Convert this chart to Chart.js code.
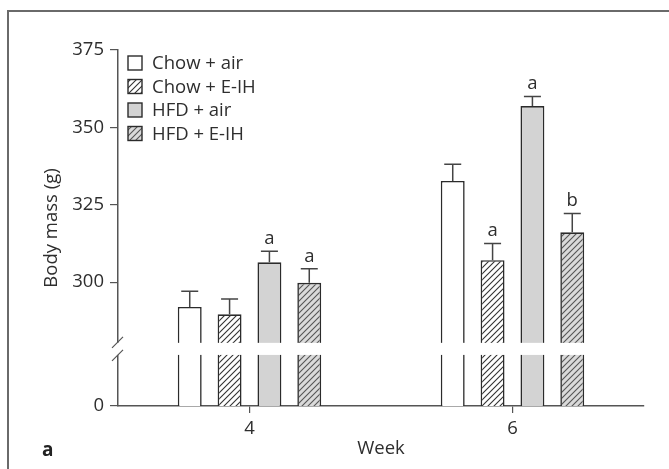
<!DOCTYPE html>
<html>
<head>
<meta charset="utf-8">
<script src="https://cdn.jsdelivr.net/npm/chart.js@4/dist/chart.umd.min.js"></script>
<style>
  html, body { margin: 0; padding: 0; background: #fff; }
  #wrap { position: relative; width: 669px; height: 469px; }
</style>
</head>
<body>
<div id="wrap"><canvas id="chart" width="669" height="469"></canvas></div>
<script>
// week groups and body mass per group (g)
const weeks = ['4', '6'];
const groupNames = ['Chow + air', 'Chow + E-IH', 'HFD + air', 'HFD + E-IH'];
const chowAir = [292.0, 332.7];
const chowEih = [289.6, 307.1];
const hfdAir = [306.4, 356.9];
const hfdEih = [299.8, 316.1];
// SEM, drawn upward only
const chowAirErr = [5.1, 5.4];
const chowEihErr = [5.0, 5.4];
const hfdAirErr = [3.6, 3.1];
const hfdEihErr = [4.5, 6.1];
// significance letters above the error caps
const chowAirSig = ['', ''];
const chowEihSig = ['', 'a'];
const hfdAirSig = ['a', 'a'];
const hfdEihSig = ['a', 'b'];
// axis: bottom of the broken axis stands for 0
const yFloor = 260;
const yTicks = [260, 300, 325, 350, 375];
const breakLow = 276.5, breakHigh = 280.4;

const FONT = '"Open Sans", "DejaVu Sans", sans-serif';
const FS = 18.5;
const TXT = '#2e2e2e';
const EDGE = '#2b2b2b';

function hatch(bg, line) {
  const s = 6;
  const c = document.createElement('canvas');
  c.width = s; c.height = s;
  const g = c.getContext('2d');
  g.fillStyle = bg;
  g.fillRect(0, 0, s, s);
  g.strokeStyle = line;
  g.lineWidth = 1.1;
  g.beginPath();
  g.moveTo(-1, s + 1); g.lineTo(s + 1, -1);
  g.moveTo(-1, 1); g.lineTo(1, -1);
  g.moveTo(s - 1, s + 1); g.lineTo(s + 1, s - 1);
  g.stroke();
  return g.createPattern(c, 'repeat');
}

const ctx = document.getElementById('chart').getContext('2d');
const fills = ['#ffffff', hatch('#ffffff', '#333'), '#d3d3d3', hatch('#dadada', '#555')];
const values = [chowAir, chowEih, hfdAir, hfdEih];
const errors = [chowAirErr, chowEihErr, hfdAirErr, hfdEihErr];
const letters = [chowAirSig, chowEihSig, hfdAirSig, hfdEihSig];

const datasets = groupNames.map((name, i) => ({
  label: name,
  data: values[i],
  backgroundColor: fills[i],
  borderColor: EDGE,
  borderWidth: 1.6,
  borderSkipped: false,
  barPercentage: 0.6,
  categoryPercentage: 0.606,
  errs: errors[i],
  sig: letters[i]
}));

// frame, error bars, axis break, legend, panel letter
const decor = {
  id: 'decor',
  beforeDraw(chart) {
    const g = chart.ctx;
    g.save();
    g.strokeStyle = '#6a6a6a';
    g.lineWidth = 2;
    g.beginPath();
    g.moveTo(8, 469); g.lineTo(8, 11); g.lineTo(669, 11);
    g.stroke();
    g.restore();
  },
  afterDatasetsDraw(chart) {
    const g = chart.ctx;
    const y = chart.scales.y;
    const area = chart.chartArea;
    g.save();
    // white gap across bars and axis
    const gTop = y.getPixelForValue(breakHigh);
    const gBot = y.getPixelForValue(breakLow);
    g.fillStyle = '#fff';
    g.fillRect(area.left - 3, gTop, area.right - area.left + 3, gBot - gTop);
    g.strokeStyle = '#555';
    g.lineWidth = 1.2;
    const ax = area.left;
    g.beginPath();
    g.moveTo(ax - 6, gTop + 5); g.lineTo(ax + 5, gTop - 6);
    g.moveTo(ax - 6, gBot + 6); g.lineTo(ax + 5, gBot - 5);
    g.stroke();

    // error bars and letters
    chart.data.datasets.forEach((ds, i) => {
      const meta = chart.getDatasetMeta(i);
      meta.data.forEach((bar, j) => {
        const top = y.getPixelForValue(ds.data[j]);
        const cap = y.getPixelForValue(ds.data[j] + ds.errs[j]);
        g.strokeStyle = '#444';
        g.lineWidth = 1.5;
        g.beginPath();
        g.moveTo(bar.x, top); g.lineTo(bar.x, cap);
        g.moveTo(bar.x - 8.5, cap); g.lineTo(bar.x + 8.5, cap);
        g.stroke();
        if (ds.sig[j]) {
          g.fillStyle = TXT;
          g.font = FS + 'px ' + FONT;
          g.textAlign = 'center';
          g.textBaseline = 'alphabetic';
          g.fillText(ds.sig[j], bar.x, cap - 7);
        }
      });
    });

    // legend
    g.font = FS + 'px ' + FONT;
    g.textAlign = 'left';
    g.textBaseline = 'middle';
    chart.data.datasets.forEach((ds, i) => {
      const ly = 63 + i * 23.5;
      g.fillStyle = ds.backgroundColor;
      g.fillRect(128, ly - 7, 14, 14);
      g.strokeStyle = EDGE;
      g.lineWidth = 1.4;
      g.strokeRect(128, ly - 7, 14, 14);
      g.fillStyle = TXT;
      g.fillText(ds.label, 152, ly + 1);
    });

    // panel letter
    g.font = 'bold 19px ' + FONT;
    g.textBaseline = 'alphabetic';
    g.fillStyle = '#222';
    g.fillText('a', 42, 456);
    g.restore();
  }
};

new Chart(ctx, {
  type: 'bar',
  data: { labels: weeks, datasets: datasets },
  options: {
    responsive: false,
    animation: false,
    layout: { padding: { left: 0, top: 50, right: 25, bottom: 0 } },
    plugins: { legend: { display: false }, tooltip: { enabled: false } },
    scales: {
      x: {
        grid: { offset: false, drawOnChartArea: false, drawTicks: true, tickLength: 7, color: '#555', lineWidth: 1.2 },
        border: { display: true, color: '#555', width: 1.5 },
        ticks: { color: TXT, font: { family: FONT, size: FS }, padding: 5 },
        title: { display: true, text: 'Week', color: TXT, font: { family: FONT, size: FS }, padding: { top: 0, bottom: 9 } },
        afterFit(s) { s.height = 63; }
      },
      y: {
        min: yFloor,
        max: 375,
        grid: { drawOnChartArea: false, drawTicks: true, tickLength: 8, color: '#555', lineWidth: 1.2 },
        border: { display: true, color: '#555', width: 1.5 },
        afterBuildTicks(s) { s.ticks = yTicks.map(v => ({ value: v })); },
        ticks: {
          color: TXT,
          font: { family: FONT, size: FS },
          padding: 6,
          callback: v => (v === yFloor ? '0' : String(v))
        },
        title: { display: true, text: 'Body mass (g)', color: TXT, font: { family: FONT, size: FS }, padding: { top: 41, bottom: 0 } },
        afterFit(s) { s.width = 118; }
      }
    }
  },
  plugins: [decor]
});
</script>
</body>
</html>
